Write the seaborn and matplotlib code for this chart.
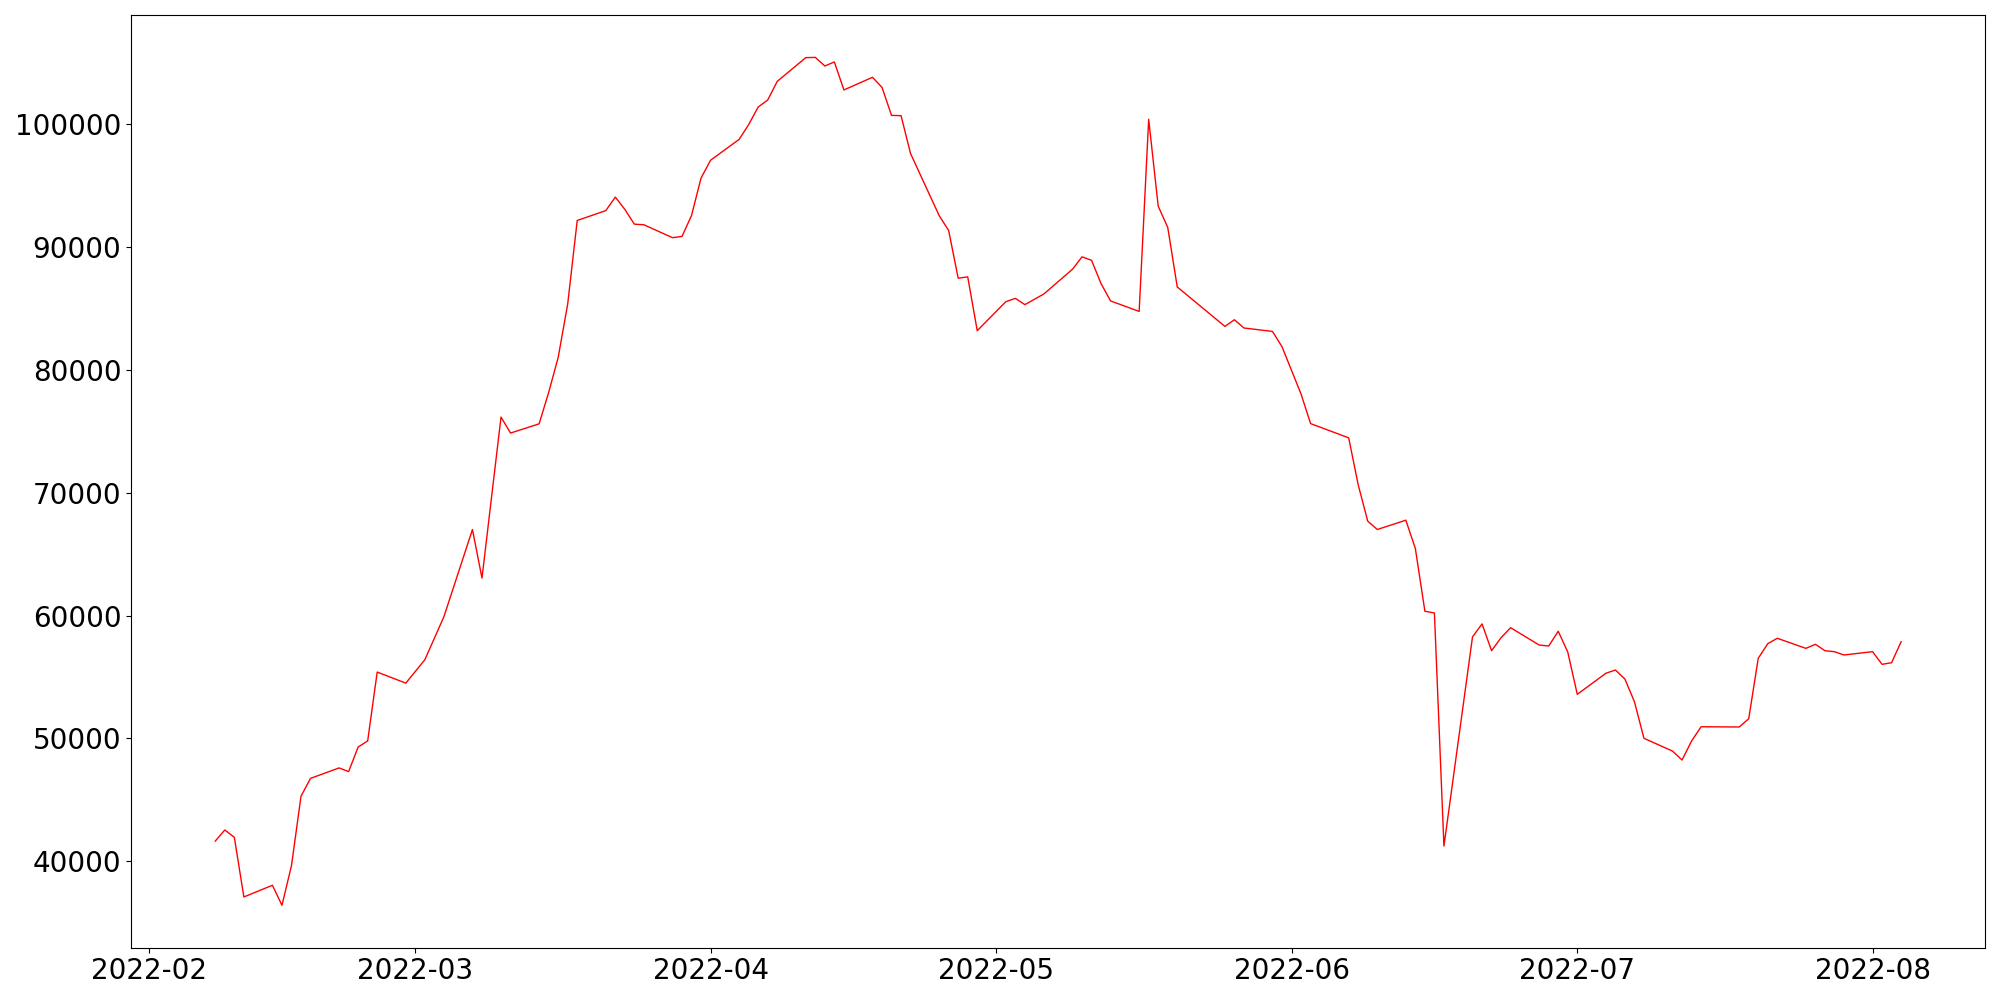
import pandas as pd
import matplotlib
matplotlib.use("Agg")
import matplotlib.pyplot as plt
import seaborn as sns

# values (trading days only)
dates = [
    "2022-02-08", "2022-02-09", "2022-02-10", "2022-02-11", "2022-02-14", "2022-02-15",
    "2022-02-16", "2022-02-17", "2022-02-18", "2022-02-21", "2022-02-22", "2022-02-23",
    "2022-02-24", "2022-02-25", "2022-02-28", "2022-03-02", "2022-03-04", "2022-03-07",
    "2022-03-08", "2022-03-10", "2022-03-11", "2022-03-14", "2022-03-15", "2022-03-16",
    "2022-03-17", "2022-03-18", "2022-03-21", "2022-03-22", "2022-03-23", "2022-03-24",
    "2022-03-25", "2022-03-28", "2022-03-29", "2022-03-30", "2022-03-31", "2022-04-01",
    "2022-04-04", "2022-04-05", "2022-04-06", "2022-04-07", "2022-04-08", "2022-04-11",
    "2022-04-12", "2022-04-13", "2022-04-14", "2022-04-15", "2022-04-18", "2022-04-19",
    "2022-04-20", "2022-04-21", "2022-04-22", "2022-04-25", "2022-04-26", "2022-04-27",
    "2022-04-28", "2022-04-29", "2022-05-02", "2022-05-03", "2022-05-04", "2022-05-06",
    "2022-05-09", "2022-05-10", "2022-05-11", "2022-05-12", "2022-05-13", "2022-05-16",
    "2022-05-17", "2022-05-18", "2022-05-19", "2022-05-20", "2022-05-25", "2022-05-26",
    "2022-05-27", "2022-05-30", "2022-05-31", "2022-06-02", "2022-06-03", "2022-06-07",
    "2022-06-08", "2022-06-09", "2022-06-10", "2022-06-13", "2022-06-14", "2022-06-15",
    "2022-06-16", "2022-06-17", "2022-06-20", "2022-06-21", "2022-06-22", "2022-06-23",
    "2022-06-24", "2022-06-27", "2022-06-28", "2022-06-29", "2022-06-30", "2022-07-01",
    "2022-07-04", "2022-07-05", "2022-07-06", "2022-07-07", "2022-07-08", "2022-07-11",
    "2022-07-12", "2022-07-13", "2022-07-14", "2022-07-18", "2022-07-19", "2022-07-20",
    "2022-07-21", "2022-07-22", "2022-07-25", "2022-07-26", "2022-07-27", "2022-07-28",
    "2022-07-29", "2022-08-01", "2022-08-02", "2022-08-03", "2022-08-04",
]

values = [
    41650, 42550, 41950, 37100, 38050, 36420,
    39650, 45300, 46750, 47600, 47300, 49300,
    49800, 55400, 54500, 56400, 59900, 67000,
    63050, 76150, 74850, 75600, 78150, 81000,
    85350, 92150, 92950, 94050, 93050, 91850,
    91800, 90750, 90850, 92550, 95600, 97050,
    98750, 99950, 101380, 101950, 103470, 105400,
    105420, 104720, 105050, 102770, 103800, 102980,
    100700, 100680, 97590, 92550, 91330, 87450,
    87560, 83180, 85540, 85810, 85300, 86170,
    88180, 89190, 88910, 87010, 85600, 84750,
    100380, 93310, 91590, 86740, 83530, 84070,
    83400, 83120, 81870, 78020, 75620, 74460,
    70630, 67680, 67000, 67760, 65450, 60350,
    60210, 41240, 58260, 59320, 57140, 58200,
    59010, 57600, 57520, 58720, 57030, 53590,
    55300, 55570, 54830, 52990, 50010, 48970,
    48240, 49790, 50950, 50930, 51600, 56520,
    57710, 58150, 57330, 57660, 57140, 57060,
    56790, 57060, 56030, 56160, 57870,
]

df = pd.DataFrame({"date": pd.to_datetime(dates), "value": values})

fig, ax = plt.subplots(figsize=(20, 10), dpi=100)
sns.lineplot(data=df, x="date", y="value", color="red", linewidth=1, ax=ax)

ax.set_xlabel("")
ax.set_ylabel("")
ax.tick_params(axis="both", labelsize=20)

fig.subplots_adjust(left=0.0655, right=0.9927, bottom=0.0523, top=0.985)
fig.savefig("out.png")
